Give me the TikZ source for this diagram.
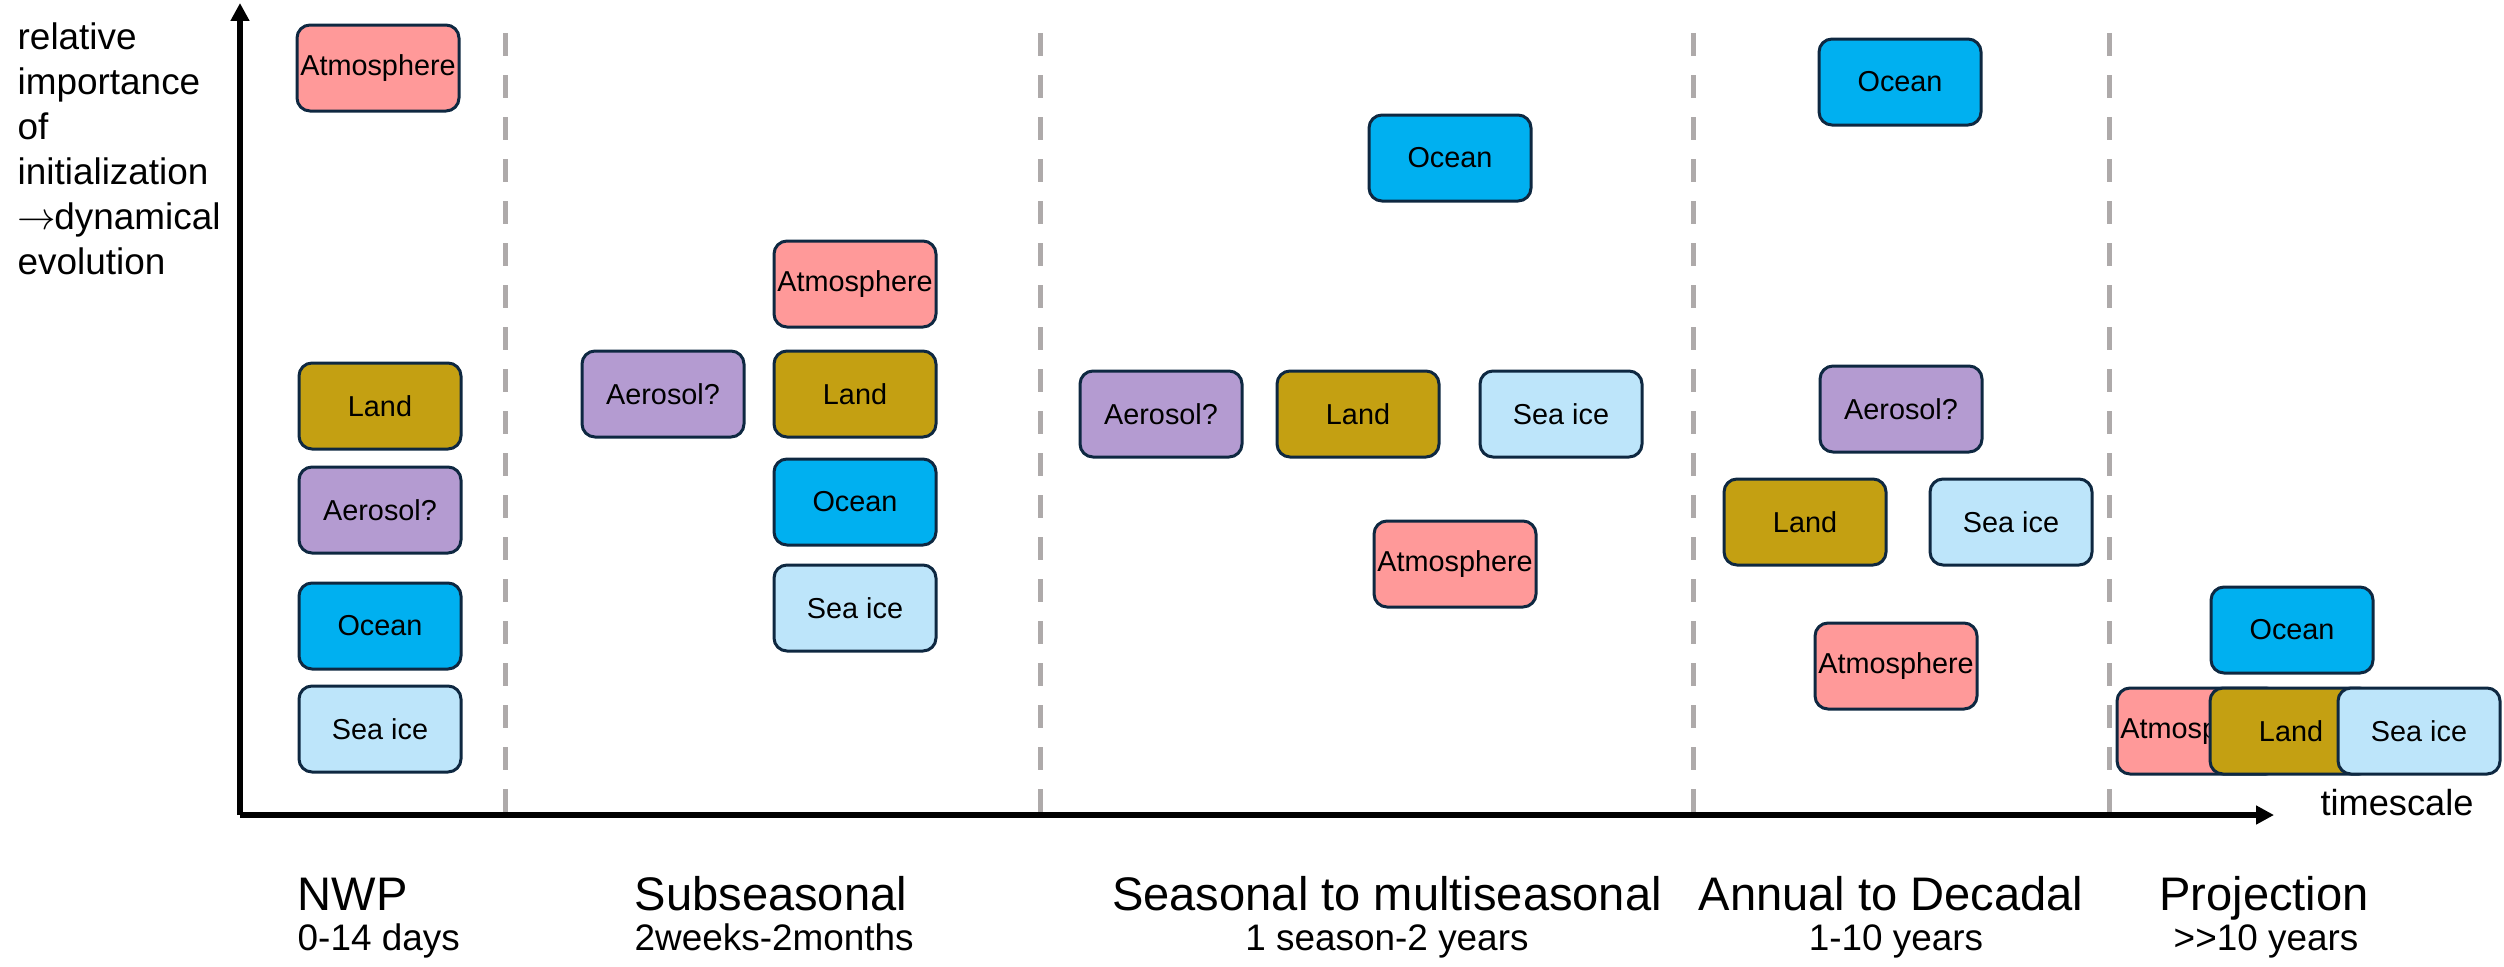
\documentclass[tikz,border=0pt]{standalone}
\usepackage{fontspec}
\setmainfont{Liberation Sans}
\usetikzlibrary{arrows.meta}

\definecolor{edge}{HTML}{0E2841}
\definecolor{atmcol}{HTML}{FF9999}
\definecolor{landcol}{HTML}{C4A012}
\definecolor{oceancol}{HTML}{00B0F0}
\definecolor{icecol}{HTML}{BDE5FA}
\definecolor{aercol}{HTML}{B49BD1}
\definecolor{sepcol}{HTML}{AEAAAA}

\begin{document}
\begin{tikzpicture}[
    compbox/.style={draw=edge,line width=0.03cm,rounded corners=0.13cm,minimum width=1.62cm,minimum height=0.86cm,inner sep=0pt,font=\fontsize{8.2}{9.8}\selectfont},
    atm/.style={compbox,fill=atmcol},
    land/.style={compbox,fill=landcol},
    ocean/.style={compbox,fill=oceancol},
    ice/.style={compbox,fill=icecol},
    aer/.style={compbox,fill=aercol},
    axisline/.style={line width=0.055cm,-{Triangle[length=0.18cm,width=0.18cm]}},
    sepline/.style={draw=sepcol,line width=0.05cm,dash pattern=on 0.23cm off 0.19cm},
    periodlbl/.style={inner sep=0pt,font=\fontsize{13.4}{16}\selectfont},
    spanlbl/.style={inner sep=0pt,font=\fontsize{10.5}{12.6}\selectfont}
]
                    \useasboundingbox (0,0) rectangle (25.04,9.66);
                    % Axes
                    \coordinate (O) at (2.40,1.51);
                    \coordinate (Y) at (2.40,9.63);
                    \coordinate (X) at (22.74,1.51);
                    \node[anchor=north west,align=left,inner sep=0pt,font=\fontsize{10.5}{12.8}\selectfont] (YL) at (0.17,9.44) {relative\\importance\\of\\initialization\\$\rightarrow$\kern-0.5pt dynamical\\evolution};
                    \node[anchor=base,inner sep=0pt,font=\fontsize{10.3}{12}\selectfont] (XL) at (23.97,1.51) {timescale};
                    % Separators
                    \coordinate (S1t) at (5.05,9.33);
                    \coordinate (S1b) at (5.05,1.51);
                    \coordinate (S2t) at (10.40,9.33);
                    \coordinate (S2b) at (10.40,1.51);
                    \coordinate (S3t) at (16.93,9.33);
                    \coordinate (S3b) at (16.93,1.51);
                    \coordinate (S4t) at (21.09,9.33);
                    \coordinate (S4b) at (21.09,1.51);
                    \draw[sepline] (S1t) -- (S1b);
                    \draw[sepline] (S2t) -- (S2b);
                    \draw[sepline] (S3t) -- (S3b);
                    \draw[sepline] (S4t) -- (S4b);
                    \draw[axisline] (O) -- (Y);
                    \draw[axisline] (O) -- (X);
                    % NWP
                    \draw (3.78,8.98) node[atm] (A1) {Atmosphere};
                    \draw (3.80,5.60) node[land] (A2) {Land};
                    \draw (3.80,4.56) node[aer] (A3) {Aerosol?};
                    \draw (3.80,3.40) node[ocean] (A4) {Ocean};
                    \draw (3.80,2.37) node[ice] (A5) {Sea ice};
                    % Subseasonal
                    \draw (8.55,6.82) node[atm] (B1) {Atmosphere};
                    \draw (6.63,5.72) node[aer] (B2) {Aerosol?};
                    \draw (8.55,5.72) node[land] (B3) {Land};
                    \draw (8.55,4.64) node[ocean] (B4) {Ocean};
                    \draw (8.55,3.58) node[ice] (B5) {Sea ice};
                    % Seasonal to multiseasonal
                    \draw (14.50,8.08) node[ocean] (C1) {Ocean};
                    \draw (11.61,5.52) node[aer] (C2) {Aerosol?};
                    \draw (13.58,5.52) node[land] (C3) {Land};
                    \draw (15.61,5.52) node[ice] (C4) {Sea ice};
                    \draw (14.55,4.02) node[atm] (C5) {Atmosphere};
                    % Annual to decadal
                    \draw (19.00,8.84) node[ocean] (D1) {Ocean};
                    \draw (19.01,5.57) node[aer] (D2) {Aerosol?};
                    \draw (18.05,4.44) node[land] (D3) {Land};
                    \draw (20.11,4.44) node[ice] (D4) {Sea ice};
                    \draw (18.96,3.00) node[atm] (D5) {Atmosphere};
                    % Projection
                    \draw (22.92,3.36) node[ocean] (E1) {Ocean};
                    \draw (21.98,2.35) node[atm] (E2) {Atmosphere};
                    \draw (22.91,2.35) node[land] (E3) {Land};
                    \draw (24.19,2.35) node[ice] (E4) {Sea ice};
                    % Periods
                    \node[periodlbl,anchor=base west] (P1) at (2.97,0.56) {NWP};
                    \node[spanlbl,anchor=base west] (R1) at (2.97,0.16) {0-14 days};
                    \node[periodlbl,anchor=base west] (P2) at (6.34,0.56) {Subseasonal};
                    \node[spanlbl,anchor=base west] (R2) at (6.34,0.16) {2weeks-2months};
                    \node[periodlbl,anchor=base] (P3) at (13.87,0.56) {Seasonal to multiseasonal};
                    \node[spanlbl,anchor=base] (R3) at (13.87,0.16) {1 season-2 years};
                    \node[periodlbl,anchor=base] (P4) at (18.91,0.56) {Annual to Decadal};
                    \node[spanlbl,anchor=base] (R4) at (18.96,0.16) {1-10 years};
                    \node[periodlbl,anchor=base] (P5) at (22.64,0.56) {Projection};
                    \node[spanlbl,anchor=base] (R5) at (22.66,0.16) {{>}{>}10 years};
                \end{tikzpicture}
\end{document}
